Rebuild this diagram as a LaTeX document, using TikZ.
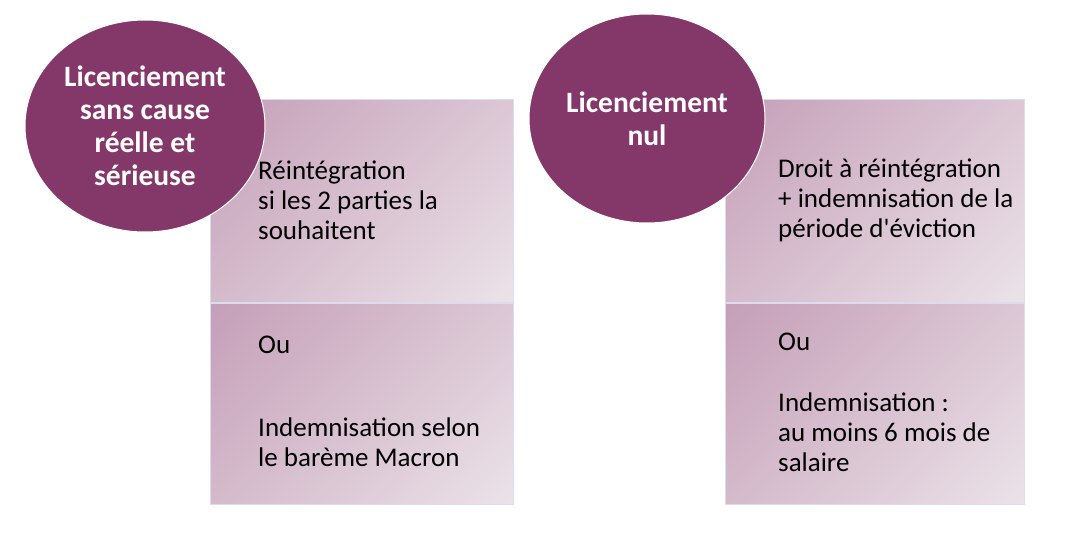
\documentclass[tikz,border=0pt]{standalone}
\usepackage{fontspec}
\setmainfont{Carlito}
\usetikzlibrary{positioning, shapes.geometric}

\definecolor{prune}{HTML}{843769}
\definecolor{mauvefonce}{HTML}{C59FB8}
\definecolor{mauveclair}{HTML}{EBE2E8}
\definecolor{bordure}{HTML}{DCDCF0}
\pgfdeclareverticalshading{degradeMauve}{100bp}{color(0bp)=(mauveclair); color(15bp)=(mauveclair); color(85bp)=(mauvefonce); color(100bp)=(mauvefonce)}

\begin{document}
\begin{tikzpicture}[x=1pt,y=-1pt,
  boite/.style={rectangle, draw=bordure, line width=1pt, shading=degradeMauve, shading angle=45, minimum width=303pt, minimum height=203pt, inner sep=0pt},
  cercle/.style={ellipse, fill=prune, draw=white, line width=1pt, text=white, align=center, inner sep=0pt, font=\fontsize{29.5}{33}\selectfont\bfseries},
  texte/.style={anchor=west, align=left, inner sep=0pt, font=\fontsize{27}{30}\selectfont}]
\useasboundingbox (0,0) rectangle (1066,538);

%les boites de gauche
\node[boite] (hautG) at (361.5,200.5) {};
\node[boite, minimum height=201pt, below=0pt of hautG] (basG) {};

%les boites de droite
\node[boite, minimum width=299pt] (hautD) at (874.5,200.5) {};
\node[boite, minimum width=299pt, minimum height=201pt, below=0pt of hautD] (basD) {};

%les textes
\node[texte] (reint) at (258,200.5) {Réintégration\\si les 2 parties la\\souhaitent};
\node[texte] (bareme) at (258,401.5) {Ou\\[53pt]Indemnisation selon\\le barème Macron};
\node[texte] (droit) at (778,200.5) {Droit à réintégration\\+ indemnisation de la\\période d\textquotesingle éviction};
\node[texte] (six) at (778,402) {Ou\\[31pt]Indemnisation :\\au moins 6 mois de\\salaire};

%les cercles
\node[cercle, minimum width=240pt, minimum height=212pt] (sansCause) at (145,126) {Licenciement\\sans cause\\réelle et\\sérieuse};
\node[cercle, minimum width=236pt, minimum height=209pt] (nul) at (647,118.5) {Licenciement\\nul};

\end{tikzpicture}
\end{document}
